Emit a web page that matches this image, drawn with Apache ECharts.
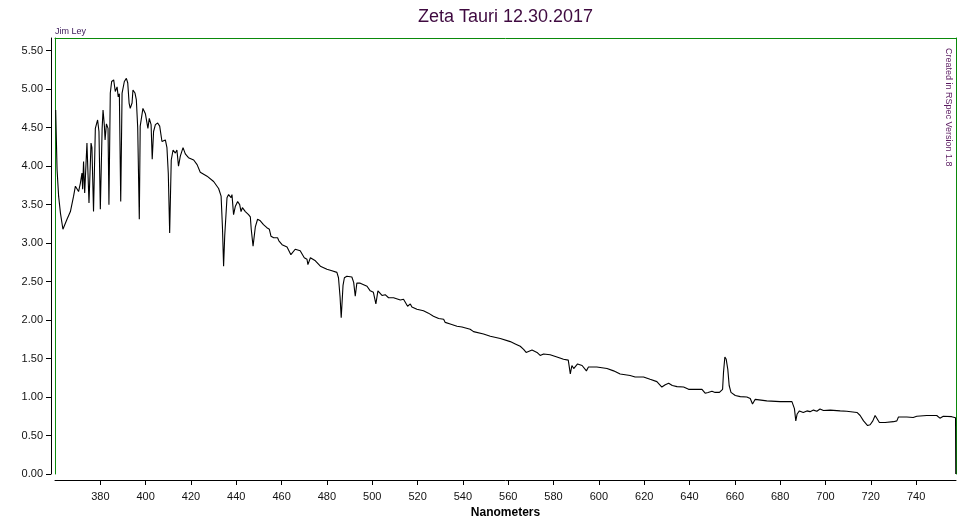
<!DOCTYPE html>
<html>
<head>
<meta charset="utf-8">
<style>
html,body{margin:0;padding:0;background:#fff;}
#chart{width:958px;height:524px;}
</style>
<script src="https://cdn.jsdelivr.net/npm/echarts@6/dist/echarts.min.js"></script>
</head>
<body>
<div id="chart"></div>
<script>
const wavelengths = [360.3,360.9,361.6,362.4,363.5,365.3,366.8,368.2,369.0,369.7,
370.4,371.2,371.9,372.2,372.6,373.1,374.1,375.0,375.9,376.3,
377.0,377.8,378.8,379.4,380.0,380.8,381.2,381.8,382.1,382.7,
383.4,383.8,384.4,385.0,385.9,386.6,387.4,387.9,388.4,389.0,
389.6,390.6,391.5,392.1,392.7,393.2,394.0,394.4,395.3,395.9,
396.5,397.2,397.6,398.8,399.9,400.6,401.0,401.6,402.4,402.9,
403.5,404.3,405.3,406.2,407.2,408.7,409.4,410.0,410.6,411.3,
412.1,413.1,413.8,414.5,415.3,416.5,417.5,418.9,421.2,422.7,
424.1,427.1,430.0,432.2,433.3,433.9,434.4,434.9,435.9,436.6,
437.7,438.1,438.8,439.6,440.6,441.5,442.1,442.7,444.0,445.4,
446.2,446.6,447.4,448.4,449.4,450.6,452.0,453.5,454.6,455.3,
456.5,458.2,458.8,460.2,462.4,463.1,464.1,466.0,468.2,469.0,
470.0,471.2,471.6,472.7,474.9,477.1,480.0,482.2,484.4,485.1,
485.8,486.3,487.1,487.7,488.8,491.0,491.8,492.5,493.2,494.7,
497.7,499.1,500.5,501.6,502.5,504.3,505.7,507.2,509.4,512.4,
513.8,515.6,516.8,517.5,519.7,522.6,524.8,527.0,529.3,531.5,
532.2,534.4,537.4,539.6,543.2,544.7,549.1,552.1,556.5,560.9,
563.1,565.3,566.8,567.9,570.5,572.7,574.1,575.6,578.5,581.5,
584.4,586.5,587.4,588.1,588.9,590.6,592.6,594.5,595.4,599.1,
603.6,606.5,609.4,613.8,616.0,619.7,622.6,625.6,627.8,629.3,
630.8,632.4,634.5,637.4,639.6,643.3,645.5,646.9,648.2,649.9,
651.3,653.2,654.6,655.0,655.6,656.2,656.9,657.5,658.3,660.2,
662.4,665.3,666.8,667.8,669.0,674.1,680.0,685.2,685.9,686.3,
686.9,687.5,688.1,688.5,690.2,691.8,693.2,694.7,696.2,697.6,
699.1,702.1,706.5,709.4,713.9,715.3,716.8,718.6,719.7,720.9,
721.9,722.7,723.8,726.3,730.0,731.5,732.2,735.9,738.7,740.3,
744.7,749.1,750.5,752.0,755.7,757.4,757.5];

const flux = [4.73,3.96,3.61,3.39,3.18,3.31,3.41,3.61,3.74,3.76,
3.67,3.78,3.91,3.70,4.06,3.65,4.30,3.52,4.30,4.24,
3.41,4.49,4.60,4.45,3.44,4.49,4.73,4.52,4.34,4.55,
4.49,3.50,4.95,5.10,5.12,4.97,5.03,4.90,4.94,3.54,
4.95,5.10,5.14,5.08,4.82,4.75,4.82,4.99,4.95,4.86,
4.50,3.31,4.52,4.75,4.68,4.66,4.49,4.62,4.54,4.09,
4.45,4.54,4.56,4.52,4.32,4.34,4.24,3.90,3.13,4.08,
4.21,4.17,4.21,4.00,4.13,4.24,4.16,4.11,4.08,4.02,
3.92,3.87,3.80,3.71,3.61,3.20,2.70,3.10,3.59,3.63,
3.59,3.63,3.37,3.48,3.54,3.50,3.41,3.46,3.41,3.37,
3.34,3.18,2.96,3.21,3.31,3.29,3.24,3.20,3.18,3.09,
3.07,3.07,3.03,2.98,2.95,2.96,2.85,2.92,2.90,2.88,
2.81,2.79,2.72,2.81,2.77,2.70,2.66,2.64,2.62,2.55,
2.30,2.03,2.45,2.55,2.57,2.56,2.49,2.31,2.48,2.48,
2.44,2.38,2.36,2.21,2.38,2.32,2.33,2.29,2.29,2.26,
2.27,2.18,2.21,2.17,2.14,2.12,2.09,2.05,2.02,2.01,
1.97,1.95,1.92,1.91,1.88,1.85,1.82,1.79,1.76,1.72,
1.69,1.66,1.62,1.58,1.61,1.58,1.54,1.56,1.55,1.52,
1.49,1.48,1.30,1.41,1.37,1.43,1.41,1.34,1.39,1.39,
1.37,1.34,1.30,1.28,1.26,1.26,1.23,1.20,1.13,1.16,
1.18,1.15,1.135,1.13,1.10,1.10,1.10,1.05,1.06,1.075,
1.06,1.06,1.10,1.32,1.52,1.49,1.36,1.15,1.06,1.02,
1.005,1.00,0.98,0.91,0.97,0.95,0.94,0.94,0.93,0.85,
0.69,0.78,0.80,0.82,0.80,0.82,0.81,0.83,0.815,0.845,
0.825,0.83,0.82,0.815,0.80,0.76,0.69,0.63,0.64,0.69,
0.76,0.74,0.67,0.67,0.68,0.69,0.74,0.74,0.735,0.75,
0.76,0.76,0.725,0.75,0.745,0.73,0];

const xTicks = [380,400,420,440,460,480,500,520,540,560,580,600,620,640,660,680,700,720,740];
const yTicks = [0,0.5,1,1.5,2,2.5,3,3.5,4,4.5,5,5.5];

const titleText = 'Zeta Tauri 12.30.2017';
const authorText = 'Jim Ley';
const creditText = 'Created in RSpec Version 1.8';
const xName = 'Nanometers';

const X_MIN = 360, X_MAX = 757.6, Y_MIN = 0, Y_MAX = 5.665;
const FONT = '"Liberation Sans", Arial, sans-serif';
const GREEN = '#0a8a0a';

const chart = echarts.init(document.getElementById('chart'), null, {renderer: 'canvas'});
const seriesData = wavelengths.map((w, i) => [w, flux[i]]);

chart.setOption({
  animation: false,
  backgroundColor: '#fff',
  title: [
    {text: titleText, left: 505.5, top: 8, padding: 0, textAlign: 'center',
     textStyle: {fontFamily: FONT, fontSize: 18, fontWeight: 'normal', color: '#3f0a40'}},
    {text: authorText, left: 55, top: 27, padding: 0,
     textStyle: {fontFamily: FONT, fontSize: 9, fontWeight: 'normal', color: '#3a1858'}}
  ],
  graphic: [
    {type: 'text', x: 953, y: 48, rotation: -Math.PI / 2,
     style: {text: creditText, fontFamily: FONT, fontSize: 9, fill: '#5a1a60',
             textAlign: 'left', textVerticalAlign: 'top'}}
  ],
  grid: {left: 55, right: 2, top: 38, bottom: 48.7, containLabel: false},
  xAxis: [
    {type: 'value', min: X_MIN, max: X_MAX, position: 'bottom', offset: 6,
     name: xName, nameLocation: 'middle', nameGap: 27,
     nameTextStyle: {fontFamily: FONT, fontSize: 12, fontWeight: 'bold', color: '#000'},
     axisLine: {show: true, onZero: false, lineStyle: {color: '#000', width: 1}},
     axisTick: {show: true, length: 5, customValues: xTicks, lineStyle: {color: '#000'}},
     axisLabel: {customValues: xTicks, margin: 11, fontFamily: FONT, fontSize: 11, color: '#111'},
     splitLine: {show: false}},
    {type: 'value', min: X_MIN, max: X_MAX, position: 'top', offset: 0,
     axisLine: {show: true, onZero: false, lineStyle: {color: GREEN, width: 1}},
     axisTick: {show: false}, axisLabel: {show: false}, splitLine: {show: false}}
  ],
  yAxis: [
    {type: 'value', min: Y_MIN, max: Y_MAX, position: 'left', offset: 4,
     axisLine: {show: true, onZero: false, lineStyle: {color: '#000', width: 1}},
     axisTick: {show: true, length: 5, customValues: yTicks, lineStyle: {color: '#000'}},
     axisLabel: {customValues: yTicks, margin: 8, fontFamily: FONT, fontSize: 11, color: '#111',
                 formatter: v => Number(v).toFixed(2)},
     splitLine: {show: false}},
    {type: 'value', min: Y_MIN, max: Y_MAX, position: 'left', offset: 0,
     axisLine: {show: true, onZero: false, lineStyle: {color: GREEN, width: 1}},
     axisTick: {show: false}, axisLabel: {show: false}, splitLine: {show: false}},
    {type: 'value', min: Y_MIN, max: Y_MAX, position: 'right', offset: 0,
     axisLine: {show: true, onZero: false, lineStyle: {color: GREEN, width: 1}},
     axisTick: {show: false}, axisLabel: {show: false}, splitLine: {show: false}}
  ],
  series: [
    {type: 'line', xAxisIndex: 0, yAxisIndex: 0, data: seriesData,
     showSymbol: false, symbol: 'none', smooth: false, z: 5,
     lineStyle: {color: '#000', width: 1.1}}
  ]
});
</script>
</body>
</html>
